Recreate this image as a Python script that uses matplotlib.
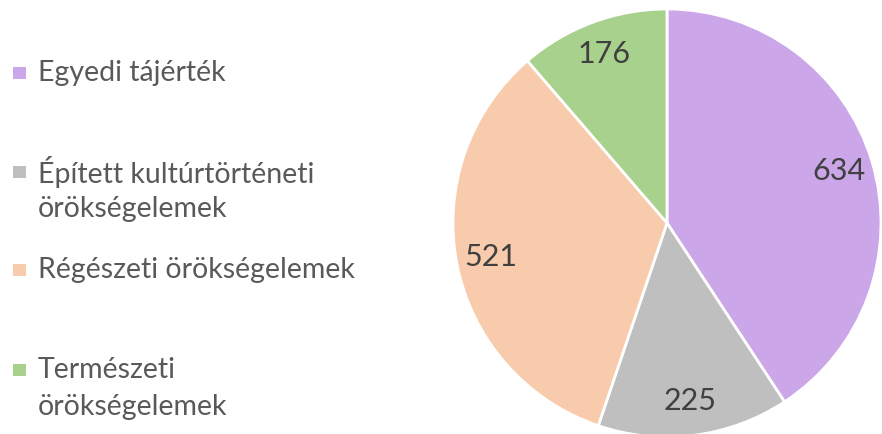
import matplotlib.pyplot as plt
from matplotlib.patches import Rectangle

# kategóriák és darabszámok
kategoriak = ["Egyedi tájérték", "Épített kultúrtörténeti\nörökségelemek",
              "Régészeti örökségelemek", "Természeti\nörökségelemek"]
ertekek = [634, 225, 521, 176]
szinek = ["#CBA6E8", "#BFBFBF", "#F7CBAB", "#A9D18E"]

plt.rcParams['font.family'] = ['Lato', 'DejaVu Sans']

fig = plt.figure(figsize=(8.82, 4.34), dpi=100)
W, H = 882, 434

# kördiagram: középpont (667, 223) px, sugár 214 px
cx, cy, r = 667, 223, 214
ax = fig.add_axes([(cx - r) / W, (H - cy - r) / H, 2 * r / W, 2 * r / H])
wedges, texts = ax.pie(ertekek, colors=szinek, startangle=90, counterclock=False,
                       radius=1, labels=[str(v) for v in ertekek], labeldistance=0.84,
                       wedgeprops=dict(edgecolor="white", linewidth=2))
for t in texts:
    t.set_fontsize(22)
    t.set_color("#404040")
    t.set_ha("center")
    t.set_va("center")
ax.set_xlim(-1, 1)
ax.set_ylim(-1, 1)
ax.set_aspect("equal")
ax.axis("off")

# jelmagyarázat kézzel, soronként
sor_y = [73, 172, 270, 370]
sorkoz = 37
for nev, szin, y in zip(kategoriak, szinek, sor_y):
    fig.patches.append(Rectangle((13 / W, 1 - (y + 6) / H), 13 / W, 12 / H,
                                 facecolor=szin, edgecolor="none",
                                 transform=fig.transFigure, figure=fig))
    for i, sor in enumerate(nev.split("\n")):
        fig.text(38 / W, 1 - (y + i * sorkoz) / H, sor, fontsize=20.5,
                 color="#595959", va="center", ha="left")

fig.savefig("out.png", dpi=100)
